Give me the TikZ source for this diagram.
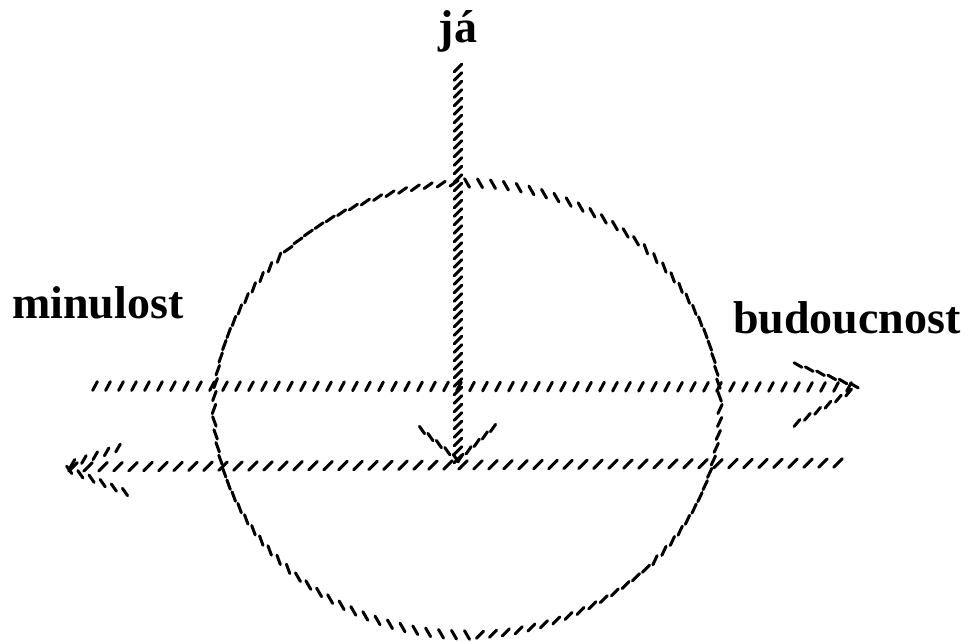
\documentclass[tikz,border=0pt]{standalone}
\usepackage{fontspec}
\setmainfont{Liberation Serif}
\usetikzlibrary{decorations.markings,calc}
\begin{document}
\begin{tikzpicture}[x=1pt,y=1pt,
 tickline/.style={line width=3pt, line cap=round, black},
 hatch/.style n args={3}{decorate, decoration={markings, mark=between positions 0 and 1 step #1 with {\pgftransformresetnontranslations \draw[tickline] (#2+180:#3) -- (#2:#3);}}},
 lbl/.style={inner sep=0pt, font=\fontsize{46}{50}\bfseries\selectfont}]
\useasboundingbox (0,0) rectangle (971,641);
% labels
\node[lbl, anchor=base] (ja) at (458,598) {já};
\node[lbl, anchor=base west] (past) at (12,323) {minulost};
\node[lbl, anchor=base west] (future) at (733,308) {budoucnost};
% coordinates
\coordinate (C) at (467,232);
\coordinate (vtop) at (458,573);
\coordinate (vtip) at (458,181);
\coordinate (vbl) at (422,211);
\coordinate (vbr) at (493,213);
\coordinate (ustart) at (95,255);
\coordinate (utip) at (858,254);
\coordinate (ub1) at (798,276);
\coordinate (ub2) at (797,218);
\coordinate (lend) at (838,178);
\coordinate (ltip) at (62,174);
\coordinate (lb1) at (118,193);
\coordinate (lb2) at (125,149);
% circle
\foreach \a/\b/\t in {180/135/70, 135/90/35, 90/45/120, 45/0/110, 0/-45/65, -45/-90/45, -90/-135/120, -135/-180/110}
  \path[hatch={13pt}{\t}{5pt}] ($(C)+(\a:253 and 226)$) arc[start angle=\a, end angle=\b, x radius=253, y radius=226];
% vertical arrow (ja)
\path[hatch={8.5pt}{45}{5.5pt}] (vtop) -- (vtip);
\path[hatch={11pt}{125}{4.5pt}] (vbl) -- (vtip);
\path[hatch={11pt}{55}{4.5pt}] (vbr) -- (vtip);
% upper arrow (to the future)
\path[hatch={13pt}{62}{5pt}] (ustart) -- (utip);
\path[hatch={12pt}{150}{4.5pt}] (ub1) -- (utip);
\path[hatch={12pt}{50}{4.5pt}] (ub2) -- (utip);
% lower arrow (to the past)
\path[hatch={15pt}{45}{6pt}] (lend) -- (ltip);
\path[hatch={12pt}{60}{4.5pt}] (lb1) -- (ltip);
\path[hatch={12pt}{125}{4.5pt}] (lb2) -- (ltip);
\end{tikzpicture}
\end{document}
